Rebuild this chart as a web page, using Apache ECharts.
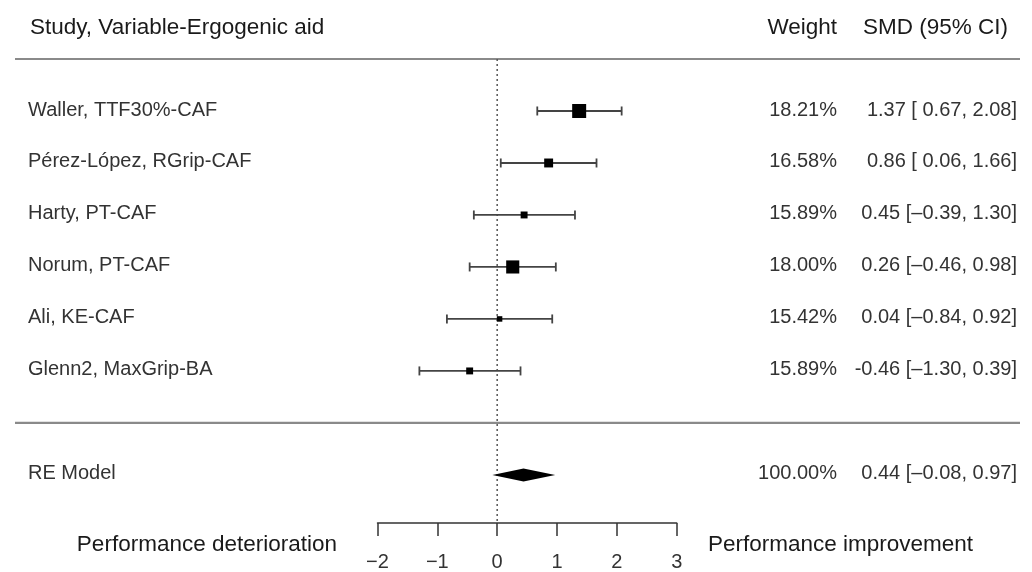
<!DOCTYPE html>
<html><head><meta charset="utf-8">
<script src="https://cdn.jsdelivr.net/npm/echarts@6/dist/echarts.min.js"></script>
<style>html,body{margin:0;padding:0;background:#fff}#c{width:1032px;height:572px}</style>
</head><body><div id="c"></div>
<script>
// ---- data ----
const studies = ['Waller, TTF30%-CAF', 'Pérez-López, RGrip-CAF', 'Harty, PT-CAF', 'Norum, PT-CAF', 'Ali, KE-CAF', 'Glenn2, MaxGrip-BA'];
const weights = [18.21, 16.58, 15.89, 18.00, 15.42, 15.89];
const smd = [1.37, 0.86, 0.45, 0.26, 0.04, -0.46];
const ciLow = [0.67, 0.06, -0.39, -0.46, -0.84, -1.30];
const ciHigh = [2.08, 1.66, 1.30, 0.98, 0.92, 0.39];
const modelLabel = 'RE Model';
const pooledWeight = 100.00;
const pooledSmd = 0.44;
const pooledLow = -0.08;
const pooledHigh = 0.97;
const xTicks = [-2, -1, 0, 1, 2, 3];
const headers = ['Study, Variable-Ergogenic aid', 'Weight', 'SMD (95% CI)'];
const sideLabels = ['Performance deterioration', 'Performance improvement'];

// ---- layout helpers ----
const FONT = '"Liberation Sans", Arial, sans-serif';
const n = studies.length;
const rowOf = i => n - i;
const pooledRow = -1;
const topRow = n + 1;
const sepRow = 0;
const yMin = -1.925;
const headerRow = topRow + 0.6;
const sideRow = yMin - 0.42;
const X_LABEL = 28, X_WEIGHT = 837, X_SMD = 1017, X_LINE0 = 15, X_LINE1 = 1020, X_HEADER = 30;

const prec = ciLow.map((l, i) => 1 / (ciHigh[i] - l));
const pMin = Math.min(...prec), pMax = Math.max(...prec);
const markerSize = prec.map(p => 5.5 + 8.5 * (p - pMin) / (pMax - pMin));

const num = v => (v < 0 ? '-' + Math.abs(v).toFixed(2) : v.toFixed(2));
const ciNum = v => (v < 0 ? '\u2013' + Math.abs(v).toFixed(2) : ' ' + v.toFixed(2));
const smdText = (e, l, h) => `${num(e)} [${ciNum(l)}, ${h.toFixed(2)}]`;

const rowsText = studies.map((s, i) => ({
  row: rowOf(i), label: s, w: weights[i].toFixed(2) + '%', ci: smdText(smd[i], ciLow[i], ciHigh[i])
}));
rowsText.push({ row: pooledRow, label: modelLabel, w: pooledWeight.toFixed(2) + '%', ci: smdText(pooledSmd, pooledLow, pooledHigh) });

const LINE_COL = '#444';

const chart = echarts.init(document.getElementById('c'), null, { renderer: 'canvas' });
chart.setOption({
  animation: false,
  backgroundColor: '#fff',
  grid: { left: 377.5, right: 1032 - 676.7, top: 59, bottom: 572 - 523, containLabel: false },
  xAxis: {
    type: 'value', min: xTicks[0], max: xTicks[xTicks.length - 1], interval: 1,
    axisLine: { show: true, onZero: false, lineStyle: { color: '#333', width: 1.5 } },
    axisTick: { show: true, inside: false, length: 13, lineStyle: { color: '#333', width: 1.5 } },
    axisLabel: { fontSize: 20, fontFamily: FONT, color: '#333', margin: 29,
      formatter: v => String(v).replace('-', '\u2212') },
    splitLine: { show: false }
  },
  yAxis: { type: 'value', min: yMin, max: topRow, show: false },
  series: [
    { // separators + dotted zero line
      type: 'custom', silent: true,
      data: [[0, topRow], [0, sepRow]],
      renderItem: (params, api) => {
        const y = api.coord([0, api.value(1)])[1];
        const children = [{ type: 'line', shape: { x1: X_LINE0, y1: y, x2: X_LINE1, y2: y }, style: { stroke: '#8a8a8a', lineWidth: 2.2 } }];
        if (params.dataIndex === 0) {
          const p1 = api.coord([0, topRow]), p2 = api.coord([0, yMin]);
          children.push({ type: 'line', shape: { x1: p1[0], y1: p1[1], x2: p2[0], y2: p2[1] }, style: { stroke: '#555', lineWidth: 1.5, lineDash: [2, 3] } });
        }
        return { type: 'group', children };
      }
    },
    { // CI bars
      type: 'custom', silent: true,
      data: studies.map((s, i) => [ciLow[i], ciHigh[i], rowOf(i)]),
      renderItem: (params, api) => {
        const a = api.coord([api.value(0), api.value(2)]);
        const b = api.coord([api.value(1), api.value(2)]);
        const st = { stroke: LINE_COL, lineWidth: 1.8 };
        return { type: 'group', children: [
          { type: 'line', shape: { x1: a[0], y1: a[1], x2: b[0], y2: b[1] }, style: st },
          { type: 'line', shape: { x1: a[0], y1: a[1] - 4.5, x2: a[0], y2: a[1] + 4.5 }, style: st },
          { type: 'line', shape: { x1: b[0], y1: b[1] - 4.5, x2: b[0], y2: b[1] + 4.5 }, style: st }
        ] };
      }
    },
    { // point estimates
      type: 'custom', silent: true,
      data: studies.map((s, i) => [smd[i], rowOf(i), i]),
      renderItem: (params, api) => {
        const c = api.coord([api.value(0), api.value(1)]);
        const s = markerSize[api.value(2)];
        return { type: 'rect', shape: { x: c[0] - s / 2, y: c[1] - s / 2, width: s, height: s }, style: { fill: '#000' } };
      }
    },
    { // pooled diamond
      type: 'custom', silent: true,
      data: [[pooledLow, pooledSmd, pooledHigh, pooledRow]],
      renderItem: (params, api) => {
        const r = api.value(3);
        const l = api.coord([api.value(0), r]), m = api.coord([api.value(1), r]), h = api.coord([api.value(2), r]);
        return { type: 'polygon', shape: { points: [[l[0], l[1]], [m[0], m[1] - 6.5], [h[0], h[1]], [m[0], m[1] + 6.5]] }, style: { fill: '#000' } };
      }
    },
    { // text columns
      type: 'custom', silent: true,
      data: rowsText.map((r, i) => [0, r.row, i]),
      renderItem: (params, api) => {
        const r = rowsText[api.value(2)];
        const y = api.coord([0, api.value(1)])[1] - 1;
        const base = { fontSize: 20, fontFamily: FONT, fill: '#333', verticalAlign: 'middle' };
        return { type: 'group', children: [
          { type: 'text', style: Object.assign({}, base, { text: r.label, x: X_LABEL, y, align: 'left' }) },
          { type: 'text', style: Object.assign({}, base, { text: r.w, x: X_WEIGHT, y, align: 'right' }) },
          { type: 'text', style: Object.assign({}, base, { text: r.ci, x: X_SMD, y, align: 'right' }) }
        ] };
      }
    },
    { // headers and side labels
      type: 'custom', silent: true,
      data: [[0, headerRow]],
      renderItem: (params, api) => {
        const yh = api.coord([0, headerRow])[1];
        const ys = api.coord([0, sideRow])[1];
        const base = { fontSize: 22.5, fontFamily: FONT, fill: '#1a1a1a', verticalAlign: 'middle' };
        return { type: 'group', children: [
          { type: 'text', style: Object.assign({}, base, { text: headers[0], x: X_HEADER, y: yh, align: 'left' }) },
          { type: 'text', style: Object.assign({}, base, { text: headers[1], x: X_WEIGHT, y: yh, align: 'right' }) },
          { type: 'text', style: Object.assign({}, base, { text: headers[2], x: 1008, y: yh, align: 'right' }) },
          { type: 'text', style: Object.assign({}, base, { text: sideLabels[0], x: 337, y: ys, align: 'right' }) },
          { type: 'text', style: Object.assign({}, base, { text: sideLabels[1], x: 708, y: ys, align: 'left' }) }
        ] };
      }
    }
  ]
});
</script></body></html>
